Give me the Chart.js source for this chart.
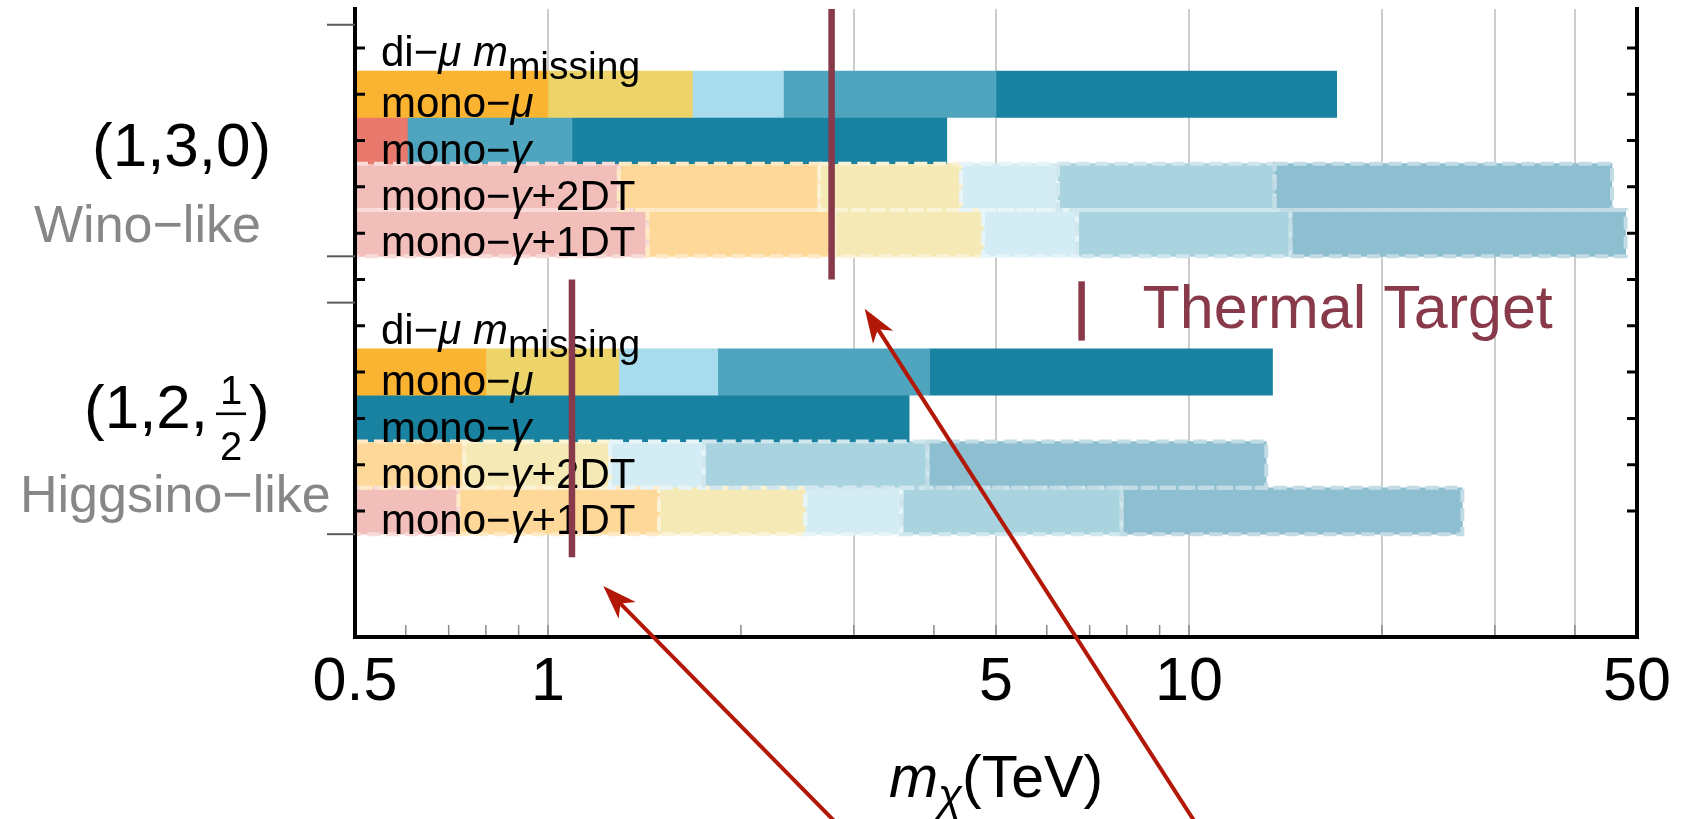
<!DOCTYPE html>
<html>
<head>
<meta charset="utf-8">
<script src="https://cdn.jsdelivr.net/npm/chart.js@4.4.1/dist/chart.umd.min.js"></script>
<style>
  html, body { margin: 0; padding: 0; background: #fff; }
  canvas { display: block; }
</style>
</head>
<body>
<canvas id="reach" width="1698" height="819" style="width:1698px;height:819px"></canvas>
<script>
const FONT = "'Liberation Sans', Arial, Helvetica, sans-serif";

// x axis: m_chi in TeV (log)
const xRange = [0.5, 50];
const xTickLabels = [0.5, 1, 5, 10, 50];
const xTickValues = [0.5, 0.6, 0.7, 0.8, 0.9, 1, 2, 3, 4, 5, 6, 7, 8, 9, 10, 20, 30, 40, 50];
const xGridValues = [1, 3, 5, 10, 20, 30, 40];

// y axis: row slots top to bottom, slot 5 is the gap between the two multiplets
const rowNames = ['di−μ m_missing', 'mono−μ', 'mono−γ', 'mono−γ+2DT', 'mono−γ+1DT'];
const winoRows = [0, 1, 2, 3, 4];
const higgsinoRows = [6, 7, 8, 9, 10];
const groupLabels = ['(1,3,0)', '(1,2,1/2)'];
const groupNames = ['Wino−like', 'Higgsino−like'];

// thermal target masses (TeV) and the row span of each marker
const thermalTarget = [2.77, 1.09];
const thermalSpan = [[-1, 5], [5, 11]];

// right edge of each reach segment (TeV); a segment starts where the previous one ends
const winoMonoMu = [1.0, 1.68, 2.33, 5.0, 17.0];
const winoMonoGamma = [0.605, 1.09, 4.19];
const wino2DT = [1.29, 2.65, 4.41, 6.24, 13.6, 45.7];
const wino1DT = [1.43, 2.80, 4.77, 6.69, 14.4, 48.0];
const higgsinoMonoMu = [0.80, 1.29, 1.84, 3.94, 13.5];
const higgsinoMonoGamma = [3.66];
const higgsino2DT = [0.74, 1.25, 1.75, 3.91, 13.2];
const higgsino1DT = [0.725, 1.49, 2.52, 3.56, 7.85, 26.7];

const palette = {
  orange: '#FBB432', yellow: '#EDD46A', sky: '#A8DBEB', blue: '#4FA5BD', teal: '#1982A0', red: '#E8796C',
  pink: '#F2BEBA', peach: '#FDD898', cream: '#F5EAB5', ice: '#D4ECF4', mist: '#AAD3E0', steel: '#8EBFD0'
};
const solidKeys = ['orange', 'yellow', 'sky', 'blue', 'teal'];
const fadedKeys = ['pink', 'peach', 'cream', 'ice', 'mist', 'steel'];

const rows = [
  [winoRows[1], winoMonoMu, solidKeys],
  [winoRows[2], winoMonoGamma, ['red', 'blue', 'teal']],
  [winoRows[3], wino2DT, fadedKeys],
  [winoRows[4], wino1DT, fadedKeys],
  [higgsinoRows[1], higgsinoMonoMu, solidKeys],
  [higgsinoRows[2], higgsinoMonoGamma, ['teal']],
  [higgsinoRows[3], higgsino2DT, fadedKeys.slice(1)],
  [higgsinoRows[4], higgsino1DT, fadedKeys]
];

const datasets = Object.keys(palette).map(key => ({
  key,
  label: key,
  data: [],
  backgroundColor: palette[key],
  borderWidth: 0,
  grouped: false,
  barPercentage: 1,
  categoryPercentage: 1,
  faded: fadedKeys.includes(key)
}));
rows.forEach(([pos, ends, keys]) => {
  let start = xRange[0];
  ends.forEach((end, i) => {
    datasets.find(d => d.key === keys[i]).data.push({ x: [start, end], y: pos });
    start = end;
  });
});

function lighten(hex, f) {
  const n = parseInt(hex.slice(1), 16);
  const c = [n >> 16, (n >> 8) & 255, n & 255].map(v => Math.round(v + (255 - v) * f));
  return `rgb(${c[0]},${c[1]},${c[2]})`;
}

// text made of runs: [text, font, dy]
function drawRuns(ctx, x, y, runs, align) {
  let w = 0;
  runs.forEach(r => { ctx.font = r[1]; w += ctx.measureText(r[0]).width; });
  let cx = align === 'center' ? x - w / 2 : (align === 'right' ? x - w : x);
  runs.forEach(r => {
    ctx.font = r[1];
    ctx.fillText(r[0], cx, y + (r[2] || 0));
    cx += ctx.measureText(r[0]).width;
  });
}

function labelRuns(name) {
  const n = '42px ' + FONT, it = 'italic 42px ' + FONT;
  if (name.startsWith('di')) {
    return [['di−', n], ['μ', it], [' ', n], ['m', it], ['missing', '39px ' + FONT, 13]];
  }
  const parts = name.split(/([μγ])/);
  return parts.filter(Boolean).map(p => (p === 'μ' || p === 'γ') ? [p, it] : [p, n]);
}

function arrow(ctx, x0, y0, x1, y1) {
  const a = Math.atan2(y1 - y0, x1 - x0);
  const len = 34, half = 12;
  const c = Math.cos(a), s = Math.sin(a);
  ctx.beginPath();
  ctx.moveTo(x0, y0);
  ctx.lineTo(x1 - c * len * 0.7, y1 - s * len * 0.7);
  ctx.stroke();
  ctx.beginPath();
  ctx.moveTo(x1, y1);
  ctx.lineTo(x1 - c * len + s * half, y1 - s * len - c * half);
  ctx.lineTo(x1 - c * len * 0.72, y1 - s * len * 0.72);
  ctx.lineTo(x1 - c * len - s * half, y1 - s * len + c * half);
  ctx.closePath();
  ctx.fill();
}

// arrow annotations in data coordinates [TeV, row]
const arrows = [
  { from: [2.80, 16.7], to: [1.22, 11.62] },
  { from: [10.2, 16.7], to: [3.12, 5.63] }
];

const decor = {
  id: 'decor',
  afterDraw(chart) {
    const ctx = chart.ctx;
    const { left, right, top, bottom } = chart.chartArea;
    const xS = chart.scales.x, yS = chart.scales.y;
    const px = v => xS.getPixelForValue(v), py = v => yS.getPixelForValue(v);
    ctx.save();

    // dashed outlines of the displaced-track bars
    chart.data.datasets.forEach((ds, i) => {
      if (!ds.faded) return;
      chart.getDatasetMeta(i).data.forEach(el => {
        const p = el.getProps(['x', 'y', 'base', 'height'], true);
        ctx.strokeStyle = lighten(ds.backgroundColor, 0.45);
        ctx.lineWidth = 4;
        ctx.setLineDash([13, 6]);
        ctx.strokeRect(p.base, p.y - p.height / 2, p.x - p.base, p.height);
      });
    });
    ctx.setLineDash([]);

    // row labels
    ctx.fillStyle = '#000';
    ctx.textBaseline = 'alphabetic';
    [winoRows, higgsinoRows].forEach(grp => {
      grp.forEach((pos, i) => {
        const dy = i === 0 ? 0.4 : 0.5;
        drawRuns(ctx, left + 26, py(pos + dy), labelRuns(rowNames[i]), 'left');
      });
    });

    // thermal target markers
    ctx.strokeStyle = '#883A4A';
    ctx.lineWidth = 6.5;
    thermalTarget.forEach((m, i) => {
      ctx.beginPath();
      ctx.moveTo(px(m), Math.max(top, py(thermalSpan[i][0])));
      ctx.lineTo(px(m), py(thermalSpan[i][1]));
      ctx.stroke();
    });

    // legend
    const lx = px(6.8);
    ctx.beginPath();
    ctx.moveTo(lx, py(5.04));
    ctx.lineTo(lx, py(6.32));
    ctx.stroke();
    ctx.fillStyle = '#883A4A';
    ctx.font = '61px ' + FONT;
    ctx.fillText('Thermal Target', lx + 61, py(6.04));

    // frame
    ctx.strokeStyle = '#000';
    ctx.lineWidth = 4;
    ctx.lineCap = 'square';
    ctx.beginPath();
    ctx.moveTo(left, top); ctx.lineTo(left, bottom); ctx.lineTo(right, bottom); ctx.lineTo(right, top);
    ctx.stroke();
    ctx.lineCap = 'butt';

    // row ticks, inward on both sides
    ctx.lineWidth = 3;
    winoRows.concat([5], higgsinoRows).forEach(k => {
      const y = py(k);
      ctx.beginPath();
      ctx.moveTo(left, y); ctx.lineTo(left + 10, y);
      ctx.moveTo(right, y); ctx.lineTo(right - 10, y);
      ctx.stroke();
    });
    // group ticks, outward
    ctx.strokeStyle = '#5a5a5a';
    ctx.lineWidth = 2;
    [winoRows, higgsinoRows].forEach(grp => {
      [grp[0] - 0.5, grp[grp.length - 1] + 0.5].forEach(k => {
        ctx.beginPath();
        ctx.moveTo(left - 28, py(k)); ctx.lineTo(left, py(k));
        ctx.stroke();
      });
    });
    // minor ticks on the mass axis
    ctx.strokeStyle = '#8a8a8a';
    ctx.lineWidth = 1.5;
    xTickValues.slice(1, -1).forEach(v => {
      ctx.beginPath();
      ctx.moveTo(px(v), bottom - 2); ctx.lineTo(px(v), bottom - 12);
      ctx.stroke();
    });

    // group labels on the left
    ctx.fillStyle = '#000';
    ctx.font = '62px ' + FONT;
    ctx.textAlign = 'left';
    ctx.fillText(groupLabels[0], 92, py(2.55));
    const hy = py(8.21);
    ctx.fillText('(1,2,', 84, hy);
    ctx.font = '40px ' + FONT;
    ctx.textAlign = 'center';
    const [num, den] = groupLabels[1].slice(5, -1).split('/');
    ctx.fillText(num, 231, py(7.68));
    ctx.fillText(den, 231, py(8.9));
    ctx.fillRect(216, py(7.9) - 1.3, 30, 2.6);
    ctx.textAlign = 'left';
    ctx.font = '62px ' + FONT;
    ctx.fillText(')', 249, hy);

    ctx.fillStyle = '#878787';
    ctx.font = '52px ' + FONT;
    ctx.fillText(groupNames[0], 34, py(4.2));
    ctx.fillText(groupNames[1], 20, py(10.02));

    // axis title
    ctx.fillStyle = '#000';
    drawRuns(ctx, (left + right) / 2, 797, [
      ['m', 'italic 59px ' + FONT],
      ['χ', 'italic 44px ' + FONT, 13],
      ['(TeV)', '59px ' + FONT]
    ], 'center');

    // arrows
    ctx.strokeStyle = '#B31807';
    ctx.fillStyle = '#B31807';
    ctx.lineWidth = 4;
    arrows.forEach(a => arrow(ctx, px(a.from[0]), py(a.from[1]), px(a.to[0]), py(a.to[1])));

    ctx.restore();
  }
};

new Chart(document.getElementById('reach'), {
  type: 'bar',
  data: { datasets },
  options: {
    indexAxis: 'y',
    responsive: false,
    animation: false,
    events: [],
    layout: { padding: { left: 355, right: 61, top: 9, bottom: 0 } },
    plugins: { legend: { display: false }, tooltip: { enabled: false } },
    scales: {
      y: {
        type: 'linear',
        display: false,
        reverse: true,
        offset: false,
        min: -0.84,
        max: 12.72,
        afterBuildTicks: s => { s.ticks = winoRows.concat([5], higgsinoRows).map(v => ({ value: v })); }
      },
      x: {
        type: 'logarithmic',
        position: 'bottom',
        min: xRange[0],
        max: xRange[1],
        afterBuildTicks: s => { s.ticks = xTickValues.map(v => ({ value: v })); },
        afterFit: s => { s.height = 182; },
        border: { display: false },
        grid: {
          drawTicks: false,
          lineWidth: 2,
          color: c => (c.tick && xGridValues.includes(c.tick.value)) ? '#cccccc' : 'rgba(0,0,0,0)'
        },
        ticks: {
          autoSkip: false,
          maxRotation: 0,
          padding: 10,
          color: '#000',
          font: { family: FONT, size: 61 },
          callback: v => xTickLabels.includes(v) ? String(v) : ''
        }
      }
    }
  },
  plugins: [decor]
});
</script>
</body>
</html>
